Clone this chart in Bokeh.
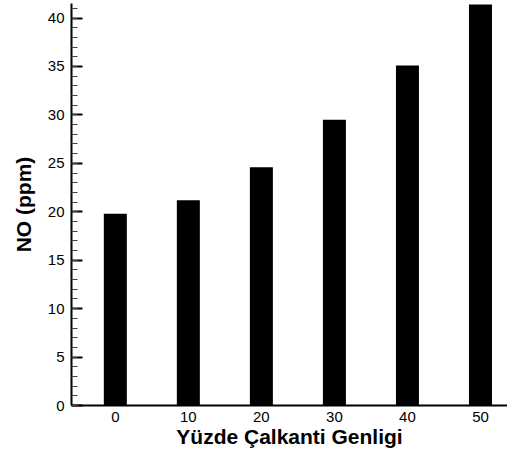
from bokeh.plotting import figure
from bokeh.models import Range1d, FixedTicker, SingleIntervalTicker
from bokeh.embed import file_html
from bokeh.resources import INLINE

amplitude = [0, 10, 20, 30, 40, 50]
no_ppm = [19.8, 21.2, 24.6, 29.5, 35.1, 41.4]
x_ticks = [0, 10, 20, 30, 40, 50]

p = figure(frame_width=436, frame_height=402, output_backend="svg", toolbar_location=None,
           x_range=Range1d(-6, 53.7), y_range=Range1d(0, 41.5),
           min_border_left=71, min_border_right=0, min_border_top=3, min_border_bottom=10)
p.outline_line_color = None
p.xgrid.visible = False
p.ygrid.visible = False
p.background_fill_color = "white"
p.border_fill_color = "white"

p.vbar(x=amplitude, top=no_ppm, width=3.15, bottom=0, fill_color="black", line_color=None)

font = "Liberation Sans"
xa = p.xaxis[0]
xa.ticker = FixedTicker(ticks=x_ticks)
xa.axis_line_width = 2
xa.axis_line_color = "black"
xa.major_tick_line_color = None
xa.minor_tick_line_color = None
xa.major_label_text_font = font
xa.major_label_text_font_size = "15px"
xa.major_label_text_color = "black"
xa.major_label_standoff = 0
xa.axis_label = "Yüzde Çalkanti Genligi"
xa.axis_label_text_font = font
xa.axis_label_text_font_size = "21px"
xa.axis_label_text_font_style = "bold"
xa.axis_label_text_color = "black"
xa.axis_label_standoff = 0

ya = p.yaxis[0]
ya.ticker = SingleIntervalTicker(interval=5, num_minor_ticks=5)
ya.axis_line_width = 2
ya.axis_line_color = "black"
ya.major_tick_in = 11
ya.major_tick_out = 0
ya.major_tick_line_width = 2
ya.minor_tick_in = 6
ya.minor_tick_out = 0
ya.minor_tick_line_width = 1
ya.minor_tick_line_color = "#444444"
ya.major_label_text_font = font
ya.major_label_text_font_size = "15px"
ya.major_label_text_color = "black"
ya.major_label_standoff = 7
ya.axis_label = "NO (ppm)"
ya.axis_label_text_font = font
ya.axis_label_text_font_size = "21px"
ya.axis_label_text_font_style = "bold"
ya.axis_label_text_color = "black"
ya.axis_label_standoff = 10

open("out.html", "w").write(file_html(p, INLINE))
